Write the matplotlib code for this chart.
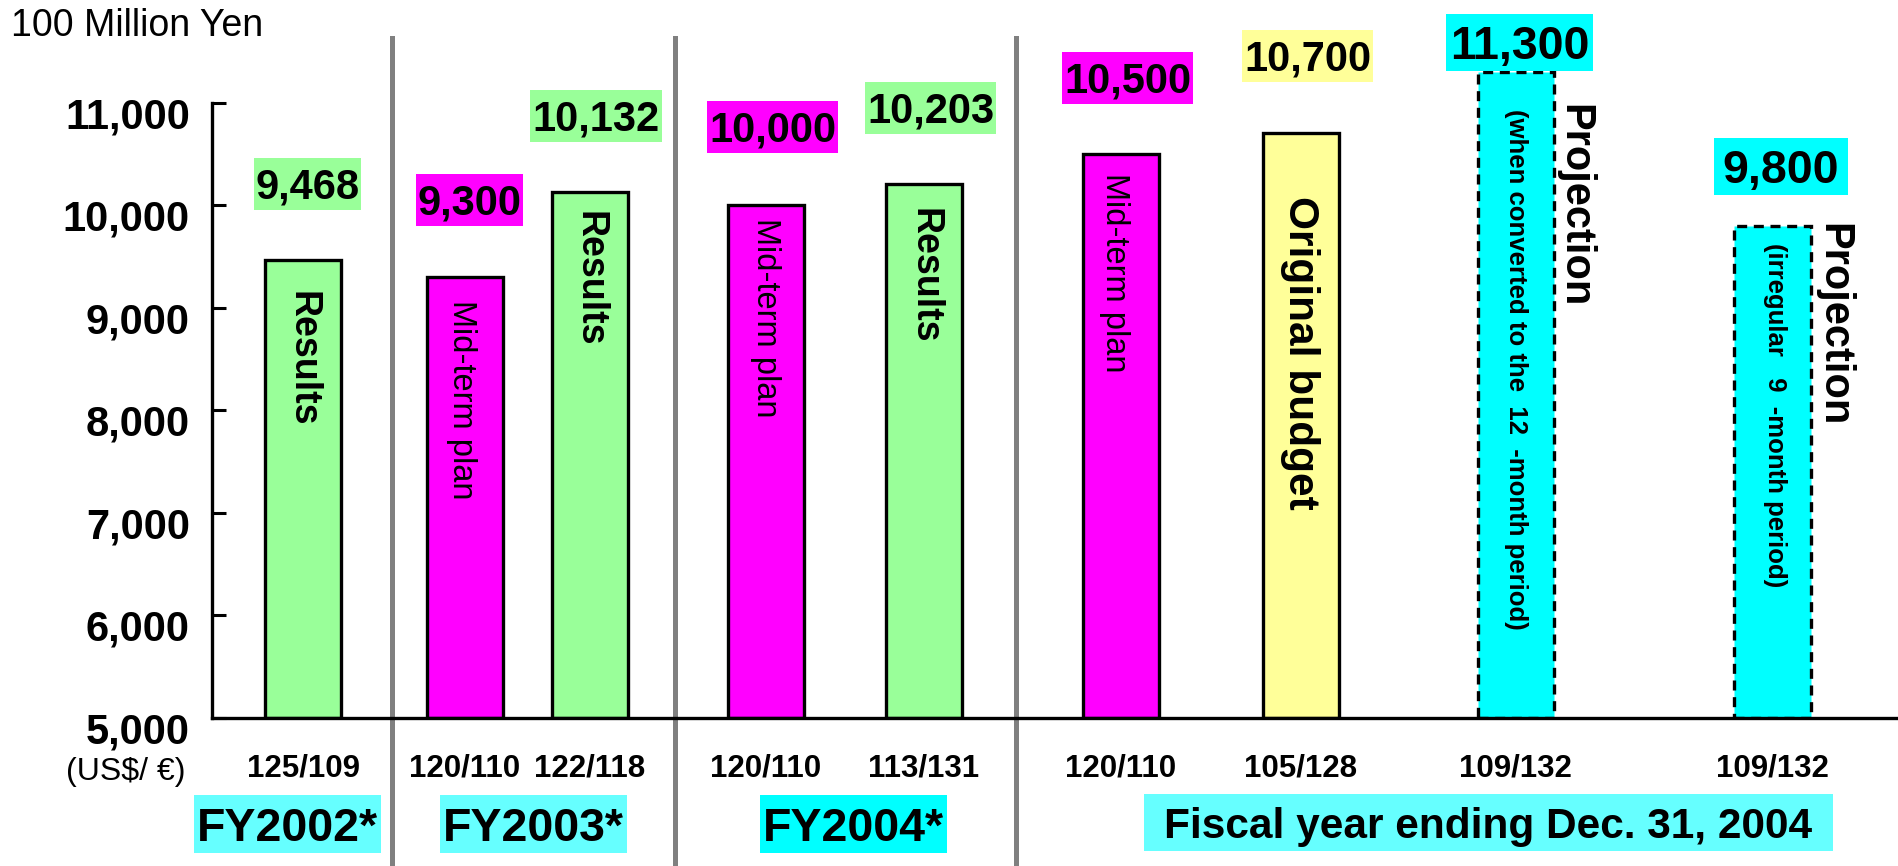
import matplotlib

matplotlib.use("Agg")
import matplotlib.pyplot as plt
from matplotlib.patches import Rectangle
from matplotlib.transforms import ScaledTranslation, offset_copy

# net sales, 100 million yen
kinds = ["Results", "Mid-term plan", "Results", "Mid-term plan", "Results",
         "Mid-term plan", "Original budget", "Projection", "Projection"]
values = [9468, 9300, 10132, 10000, 10203, 10500, 10700, 11300, 9800]
fx_rates = ["125/109", "120/110", "122/118", "120/110", "113/131",
            "120/110", "105/128", "109/132", "109/132"]
periods = ["FY2002*", "FY2003*", "FY2004*", "Fiscal year ending Dec. 31, 2004"]
projection_notes = ["(when converted to the  12  -month period)",
                    "(irregular   9  -month period)"]

COLORS = {
    "Results": "#99FF99",
    "Mid-term plan": "#FF00FF",
    "Original budget": "#FFFF99",
    "Projection": "#00FFFF",
}

# layout (x in slots of 100 px from the y axis)
x_pos = [0.915, 2.53, 3.78, 5.54, 7.12, 9.085, 10.89, 13.035, 15.605]
bar_w = 0.76
sep_x = [1.80, 4.63, 8.04]
val_box = [  # cx, cy, w, h, fontsize
    (0.955, 10206, 1.07, 507, 30), (2.575, 10050, 1.07, 507, 30),
    (3.84, 10869, 1.32, 507, 30), (5.605, 10762, 1.31, 507, 30),
    (7.185, 10947, 1.31, 507, 30), (9.155, 11240, 1.31, 507, 30),
    (10.955, 11454, 1.31, 507, 30), (13.075, 11590, 1.47, 556, 33.5),
    (15.69, 10377, 1.34, 556, 33.5),
]
inner = [  # x, y, size, weight
    (0.91, 8500, 27, "bold"), (2.50, 8100, 23.5, "normal"), (3.78, 9280, 27, "bold"),
    (5.54, 8900, 23.5, "normal"), (7.13, 9309, 27, "bold"), (9.03, 9338, 23.5, "normal"),
    (10.88, 8559, 30.5, "bold"),
]
period_box = [  # x0, x1, cy, h, colour, fontsize
    (-0.18, 1.69, 3967, 565, "#66FFFF", 33.5),
    (2.28, 4.15, 3967, 565, "#66FFFF", 33.5),
    (5.48, 7.35, 3967, 565, "#00FFFF", 33.5),
    (9.32, 16.21, 3981, 556, "#66FFFF", 30.5),
]

plt.rcParams["font.family"] = ["Liberation Sans", "DejaVu Sans"]

W, H = 1899, 866
fig = plt.figure(figsize=(W / 100, H / 100), dpi=100)
ax = fig.add_axes([212 / W, (H - 718) / H, (W - 212) / W, 718 / H])
ax.set_xlim(0, 16.87)
ax.set_ylim(5000, 12000)


def baseline_at(fs):
    # put the baseline half a digit height below the anchor
    return offset_copy(ax.transData, fig=fig, y=-0.358 * fs, units="points")


for i, (kind, v) in enumerate(zip(kinds, values)):
    dashed = kind == "Projection"
    ax.bar(x_pos[i], v - 5000, bottom=5000, width=bar_w, color=COLORS[kind],
           edgecolor="black", linewidth=2.4,
           linestyle=(0, (3, 2)) if dashed else "-", zorder=2)

    cx, cy, w, h, fs = val_box[i]
    ax.add_patch(Rectangle((cx - w / 2, cy - h / 2), w, h, facecolor=COLORS[kind],
                           edgecolor="none", zorder=3, clip_on=False))
    ax.text(cx, cy, f"{v:,}", fontsize=fs, fontweight="bold", ha="center",
            va="baseline", transform=baseline_at(fs), zorder=4, clip_on=False)

    ax.text(x_pos[i], 4542, fx_rates[i], fontsize=22.5, fontweight="bold",
            ha="center", va="baseline", transform=baseline_at(22.5), clip_on=False)

for (x, y, fs, wt), kind in zip(inner, kinds):
    ax.text(x, y, kind, rotation=270, rotation_mode="anchor", ha="center",
            va="center", fontsize=fs, fontweight=wt, zorder=4)

# projection bars: caption beside the bar, note inside it
for (xn, yn), (xp, yp), note in zip([(13.04, 8403), (15.63, 7954)],
                                    [(13.62, 9992), (16.21, 8832)],
                                    projection_notes):
    ax.text(xn, yn, note, rotation=270, rotation_mode="anchor", ha="center",
            va="center", fontsize=18.5, fontweight="bold", zorder=4)
    ax.text(xp, yp, "Projection", rotation=270, rotation_mode="anchor",
            ha="center", va="center", fontsize=30, fontweight="bold", zorder=4)

for x in sep_x:
    ax.axvline(x, ymin=-0.206, ymax=0.947, color="#808080", linewidth=3.6,
               clip_on=False, zorder=1)

for (x0, x1, cy, h, col, fs), label in zip(period_box, periods):
    ax.add_patch(Rectangle((x0, cy - h / 2), x1 - x0, h, facecolor=col,
                           edgecolor="none", clip_on=False))
    ax.text((x0 + x1) / 2, cy, label, fontsize=fs, fontweight="bold", ha="center",
            va="baseline", transform=baseline_at(fs), clip_on=False)

ax.text(-0.86, 4474, "(US$/ €)", fontsize=23, ha="center", va="center",
        clip_on=False)
fig.text(11 / W, 1 - 36 / H, "100 Million Yen", fontsize=27, va="baseline")

# axes
for side in ("top", "right"):
    ax.spines[side].set_visible(False)
ax.spines["left"].set_bounds(5000, 11000)
ax.spines["left"].set_linewidth(2.4)
ax.spines["bottom"].set_linewidth(2.4)
ax.set_xticks([])
yt = list(range(5000, 11001, 1000))
ax.set_yticks(yt)
ax.set_yticklabels([f"{t:,}" for t in yt], fontsize=30, fontweight="bold")
ax.tick_params(axis="y", direction="in", length=10, width=2.2, pad=16)
shift = ScaledTranslation(0, -0.1, fig.dpi_scale_trans)
for lbl in ax.get_yticklabels():
    lbl.set_transform(lbl.get_transform() + shift)

fig.savefig("out.png", dpi=100, facecolor="white")
